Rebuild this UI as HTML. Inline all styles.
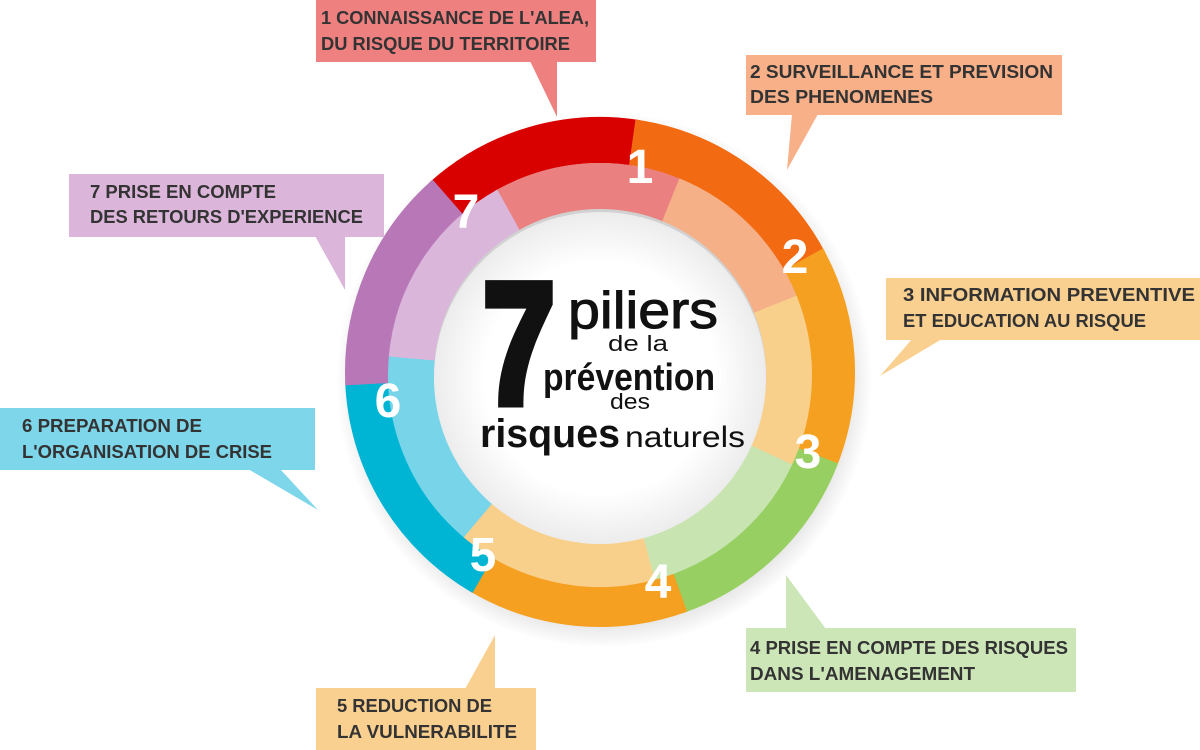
<!DOCTYPE html>
<html><head><meta charset="utf-8"><style>
html,body{margin:0;padding:0;background:#fff;}
svg{display:block;}
.c{font-family:"Liberation Sans",sans-serif;font-weight:bold;font-size:18px;fill:#333;}
.n{font-family:"Liberation Sans",sans-serif;font-weight:bold;font-size:48px;fill:#fff;}
</style></head><body>
<svg width="1200" height="750" viewBox="0 0 1200 750">
<defs>
<radialGradient id="sh" cx="0.5" cy="0.5" r="0.5">
<stop offset="0.84" stop-color="#000" stop-opacity="0.18"/>
<stop offset="1" stop-color="#000" stop-opacity="0"/>
</radialGradient>
<radialGradient id="wh" cx="0.5" cy="0.5" r="0.5">
<stop offset="0.7" stop-color="#fff"/>
<stop offset="1" stop-color="#ececec"/>
</radialGradient>
</defs>
<circle cx="604" cy="380" r="268" fill="url(#sh)"/>
<g transform="translate(600,372)" fill="none">
<circle r="232" stroke-width="46" pathLength="360" stroke="#d90000" stroke-dasharray="51 360" transform="rotate(228)"/>
<circle r="232" stroke-width="46" pathLength="360" stroke="#f26a12" stroke-dasharray="54 360" transform="rotate(278)"/>
<circle r="232" stroke-width="46" pathLength="360" stroke="#f5a020" stroke-dasharray="51 360" transform="rotate(331)"/>
<circle r="232" stroke-width="46" pathLength="360" stroke="#97cf62" stroke-dasharray="50 360" transform="rotate(21)"/>
<circle r="232" stroke-width="46" pathLength="360" stroke="#f5a020" stroke-dasharray="51 360" transform="rotate(70)"/>
<circle r="232" stroke-width="46" pathLength="360" stroke="#00b4d4" stroke-dasharray="58 360" transform="rotate(120)"/>
<circle r="232" stroke-width="46" pathLength="360" stroke="#b878b8" stroke-dasharray="52 360" transform="rotate(177)"/>
</g>
<g transform="translate(600,375)" fill="none">
<circle r="189" stroke-width="46" pathLength="360" stroke="#ea8080" stroke-dasharray="53 360" transform="rotate(240)"/>
<circle r="189" stroke-width="46" pathLength="360" stroke="#f5b088" stroke-dasharray="47 360" transform="rotate(292)"/>
<circle r="189" stroke-width="46" pathLength="360" stroke="#f8d08c" stroke-dasharray="48 360" transform="rotate(338)"/>
<circle r="189" stroke-width="46" pathLength="360" stroke="#c8e4b0" stroke-dasharray="51 360" transform="rotate(25)"/>
<circle r="189" stroke-width="46" pathLength="360" stroke="#f8d08c" stroke-dasharray="56 360" transform="rotate(75)"/>
<circle r="189" stroke-width="46" pathLength="360" stroke="#78d4e8" stroke-dasharray="56 360" transform="rotate(130)"/>
<circle r="189" stroke-width="46" pathLength="360" stroke="#dab6da" stroke-dasharray="56 360" transform="rotate(185)"/>
</g>
<circle cx="600" cy="378" r="166" fill="url(#wh)"/>
<text class="n" x="640" y="183" text-anchor="middle">1</text>
<text class="n" x="795" y="273" text-anchor="middle">2</text>
<text class="n" x="808" y="468" text-anchor="middle">3</text>
<text class="n" x="658" y="598" text-anchor="middle">4</text>
<text class="n" x="483" y="571" text-anchor="middle">5</text>
<text class="n" x="388" y="417" text-anchor="middle">6</text>
<text class="n" x="466" y="228" text-anchor="middle">7</text>
<g font-family="Liberation Sans, sans-serif" fill="#111">
<text x="483" y="403" font-size="172" font-weight="bold" stroke="#111" stroke-width="9" stroke-linejoin="miter" textLength="72" lengthAdjust="spacingAndGlyphs">7</text>
<text x="568" y="328" font-size="52" stroke="#111" stroke-width="1" textLength="150" lengthAdjust="spacingAndGlyphs">piliers</text>
<text x="608" y="351" font-size="22" textLength="60" lengthAdjust="spacingAndGlyphs">de la</text>
<text x="543" y="390" font-size="38" font-weight="bold" textLength="172" lengthAdjust="spacingAndGlyphs">prévention</text>
<text x="610" y="409" font-size="22" textLength="40" lengthAdjust="spacingAndGlyphs">des</text>
<text x="480" y="447" font-size="40" font-weight="bold" textLength="140" lengthAdjust="spacingAndGlyphs">risques</text>
<text x="625" y="447" font-size="30" textLength="120" lengthAdjust="spacingAndGlyphs">naturels</text>
</g>
<g>
<rect x="316" y="0" width="280" height="62" fill="#ee8080"/><polygon points="530,61 557,61 557,117" fill="#ee8080"/>
<text class="c" x="321" y="24" textLength="268" lengthAdjust="spacingAndGlyphs">1 CONNAISSANCE DE L'ALEA,</text>
<text class="c" x="321" y="50" textLength="249" lengthAdjust="spacingAndGlyphs">DU RISQUE DU TERRITOIRE</text>

<rect x="746" y="55" width="316" height="60" fill="#f8b088"/><polygon points="792,114 818,114 787,170" fill="#f8b088"/>
<text class="c" x="750" y="78" textLength="303" lengthAdjust="spacingAndGlyphs">2 SURVEILLANCE ET PREVISION</text>
<text class="c" x="750" y="103" textLength="183" lengthAdjust="spacingAndGlyphs">DES PHENOMENES</text>

<rect x="886" y="278" width="314" height="62" fill="#fad090"/><polygon points="912,339 942,339 880,376" fill="#fad090"/>
<text class="c" x="903" y="301" textLength="292" lengthAdjust="spacingAndGlyphs">3 INFORMATION PREVENTIVE</text>
<text class="c" x="903" y="327" textLength="243" lengthAdjust="spacingAndGlyphs">ET EDUCATION AU RISQUE</text>

<rect x="746" y="628" width="330" height="64" fill="#cde6b8"/><polygon points="786,575 786,629 826,629" fill="#cde6b8"/>
<text class="c" x="750" y="654" textLength="318" lengthAdjust="spacingAndGlyphs">4 PRISE EN COMPTE DES RISQUES</text>
<text class="c" x="750" y="680" textLength="225" lengthAdjust="spacingAndGlyphs">DANS L'AMENAGEMENT</text>

<rect x="316" y="688" width="220" height="62" fill="#fad090"/><polygon points="495,635 465,689 495,689" fill="#fad090"/>
<text class="c" x="337" y="712" textLength="155" lengthAdjust="spacingAndGlyphs">5 REDUCTION DE</text>
<text class="c" x="337" y="738" textLength="180" lengthAdjust="spacingAndGlyphs">LA VULNERABILITE</text>

<rect x="0" y="408" width="315" height="62" fill="#7dd6ea"/><polygon points="248,469 280,469 318,510" fill="#7dd6ea"/>
<text class="c" x="22" y="432" textLength="180" lengthAdjust="spacingAndGlyphs">6 PREPARATION DE</text>
<text class="c" x="22" y="458" textLength="250" lengthAdjust="spacingAndGlyphs">L'ORGANISATION DE CRISE</text>

<rect x="69" y="174" width="315" height="63" fill="#dcb6da"/><polygon points="315,236 345,236 345,290" fill="#dcb6da"/>
<text class="c" x="90" y="198" textLength="186" lengthAdjust="spacingAndGlyphs">7 PRISE EN COMPTE</text>
<text class="c" x="90" y="223" textLength="273" lengthAdjust="spacingAndGlyphs">DES RETOURS D'EXPERIENCE</text>
</g>
</svg>
</body></html>
